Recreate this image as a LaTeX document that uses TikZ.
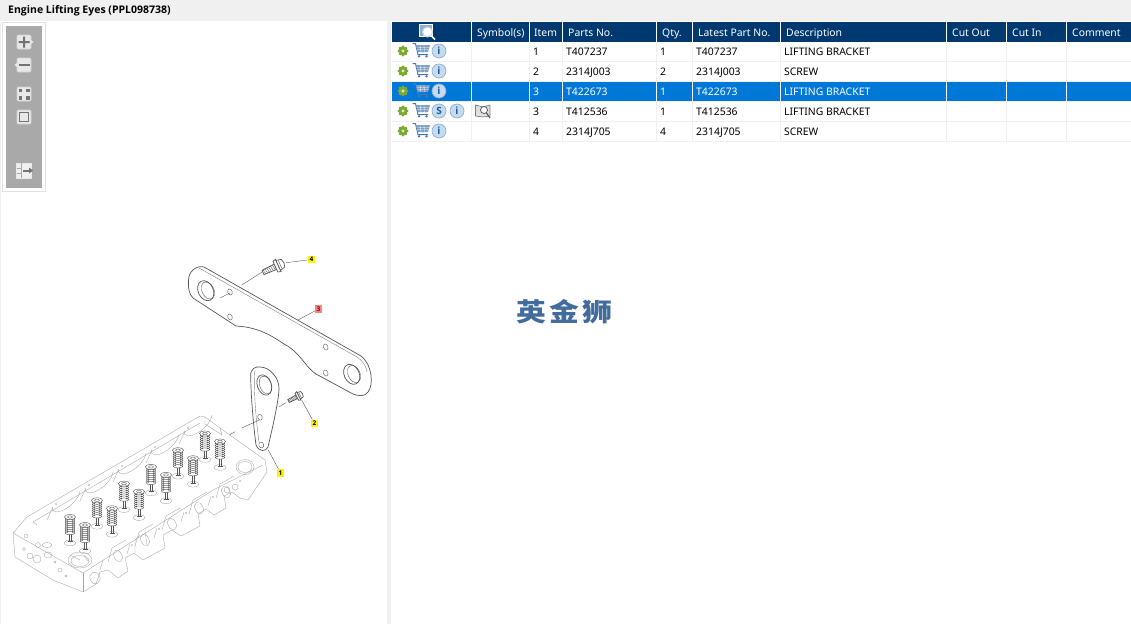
\documentclass[tikz,border=0pt]{standalone}
\usepackage{fontspec}
\setmainfont{Noto Sans}
\newfontfamily\cjk{Noto Sans CJK SC}
\newfontfamily\boldsans{Open Sans}
\usetikzlibrary{calc}
\definecolor{barback}{RGB}{240,240,240}
\definecolor{headblue}{RGB}{0,56,112}
\definecolor{rowblue}{RGB}{0,120,215}
\definecolor{toolgray}{RGB}{169,169,169}
\definecolor{gearcol}{RGB}{122,170,50}
\definecolor{cartcol}{RGB}{70,120,175}
\definecolor{infocol}{RGB}{197,220,240}
\definecolor{infotext}{RGB}{30,90,150}
\definecolor{markblue}{RGB}{66,108,155}
\definecolor{partline}{RGB}{85,85,85}
\definecolor{headline}{RGB}{165,165,165}
\definecolor{tagred}{RGB}{250,130,130}
\definecolor{btngray}{RGB}{115,115,115}
\tikzset{
  cell/.style={anchor=west, inner sep=0pt, font=\fontsize{10.4}{12}\selectfont, text height=7.5pt, text depth=1pt},
  headcell/.style={cell, text=white},
  tag/.style={font=\fontsize{6.5}{6.5}\selectfont\boldsans\bfseries, inner sep=0pt, minimum width=6.5pt, minimum height=7.5pt},
  leader/.style={draw=partline, line width=0.4pt},
  part/.style={draw=partline, line width=0.7pt},
  thinpart/.style={draw=partline, line width=0.4pt},
  engine/.style={draw=headline, line width=0.35pt},
  toolbtn/.style={draw=white!65!gray, fill=white!82!gray, line width=0.6pt, rounded corners=1pt},
  gearicon/.pic={
    \foreach \a in {0,45,...,315}
      \fill[gearcol] (\a:4.2pt) circle (1.5pt);
    \fill[gearcol] (0,0) circle (4.5pt);
    \fill[white!75!gearcol] (0,0) circle (1.7pt);
  },
  carticon/.pic={
    \draw[cartcol, line width=1pt] (-8.5,-6.5) -- (-5.5,-6.5) -- (-3,4.5) -- (7,4.5);
    \fill[cartcol!70] (-5,-5) -- (9,-5) -- (7,2) -- (-3.3,2) -- cycle;
    \draw[white, line width=0.3pt] (-4.5,-2.7) -- (8.2,-2.7) (-4,-0.3) -- (7.6,-0.3) (-1,-5) -- (0,2) (3,-5) -- (3.3,2);
    \fill[cartcol] (-2,6.3) circle (1.3pt) (5.5,6.3) circle (1.3pt);
  },
  infoicon/.pic={
    \node[circle, draw=cartcol!60, fill=infocol, line width=0.7pt, inner sep=0pt, minimum size=14pt, text=infotext, font=\fontsize{10}{10}\selectfont\boldsans\bfseries] (-i) {\tikzpictext};
  },
  valve/.pic={
    \draw[engine] (0,18) ellipse (6pt and 2.8pt);
    \draw[partline, line width=0.4pt] (-0.7,-9) -- (-0.7,17) (0.7,-9) -- (0.7,17);
    \draw[partline, line width=0.4pt] (-2.5,16.5) -- (2.5,16.5);
    \foreach \v in {-6,-4,...,8}
      \draw[partline, line width=0.45pt, fill=white] (0,\v) ellipse (4.8pt and 1.7pt);
    \foreach \v in {-5,-3,...,7}
      \fill[partline] (-2.6,\v) circle (0.75pt) (2.6,\v) circle (0.75pt);
    \draw[partline, line width=0.4pt, fill=white] (0,-8) ellipse (5.6pt and 2.6pt);
    \draw[partline, line width=0.4pt] (0,-8) ellipse (2.4pt and 1.2pt);
  },
  bolt/.pic={
    \draw[part, fill=white] (0,-2.2) -- (13,-2.8) -- (13,2.8) -- (0,2.2) -- cycle;
    \foreach \t in {1,3,...,11}
      \draw[thinpart] (\t,-2.6) -- (\t+0.8,2.6);
    \draw[part, fill=white] (13,-5.5) -- (16,-6.5) -- (16,6.5) -- (13,5.5) -- cycle;
    \draw[part, fill=white] (16,-5.2) -- (21,-4) -- (22,0) -- (21,4) -- (16,5.2) -- cycle;
    \draw[thinpart] (18,-4.2) -- (18,4.2);
  },
}
\begin{document}
\begin{tikzpicture}[x=1pt,y=-1pt]
  \useasboundingbox (0,0) rectangle (1131,624);

  % panels
  \fill[white] (0,0) rectangle (1131,624);
  \fill[barback] (0,0) rectangle (1131,21);
  \fill[barback] (387,21) rectangle (391,624);
  \fill[barback] (0,21) rectangle (1,624);
  \node[anchor=west, inner sep=0pt, font=\fontsize{10.5}{12}\selectfont\boldsans\bfseries] (title) at (8,11) {Engine Lifting Eyes (PPL098738)};

  % toolbar
  \draw[draw=white!75!gray, fill=white, line width=0.8pt] (2.5,22.5) rectangle (45.5,191.5);
  \fill[toolgray] (6,26) rectangle (42,188);
  \foreach \y in {42,65,94,117}
    \draw[toolbtn] (17,\y-7) rectangle (31,\y+7);
  \fill[white!82!gray] (31,40) -- (33.5,42) -- (31,44) -- cycle;
  \fill[white!82!gray] (17,63) -- (14.5,65) -- (17,67) -- cycle;
  \fill[btngray] (18.5,41) rectangle (29.5,43) (23,36.5) rectangle (25,47.5);
  \fill[btngray] (18.5,64) rectangle (29.5,66);
  \foreach \x/\y in {18.5/88.5,26/88.5,18.5/96,26/96}
    \fill[btngray] (\x,\y) rectangle ++(3.5,3.5);
  \draw[btngray, line width=1pt] (19.8,112.5) rectangle (28.2,121.5);
  \draw[white!82!gray, fill=white!88!gray, line width=0.4pt] (16,163) rectangle (31,178);
  \draw[toolgray, line width=0.6pt] (16.5,168) -- (21,168) (16.5,173) -- (21,173) (21,163) -- (21,178);
  \fill[btngray] (23,169.5) rectangle (29,171.5);
  \fill[btngray] (29,167.5) -- (33,170.5) -- (29,173.5) -- cycle;

  % large bracket
  \draw[part, fill=white] (188.5,281) .. controls (188,272) and (196,265) .. (204,267)
    -- (361,356) .. controls (372,364) and (374,385) .. (368,392)
    .. controls (365,397) and (358,396) .. (353,394)
    -- (316,374) .. controls (306,368) and (300,352) .. (284,344)
    .. controls (268,333) and (255,327) .. (236,326)
    -- (193,298) .. controls (189,294) and (188,288) .. cycle;
  \draw[thinpart, gray] (199,268) -- (357,357) .. controls (363,361) and (366,366) .. (367,372);
  \draw[part] (205.7,290.7) circle[x radius=7.5pt, y radius=10.5pt, rotate=25];
  \draw[thinpart] (208,290.5) circle[x radius=6pt, y radius=9pt, rotate=25];
  \draw[part] (351.7,374.3) circle[x radius=7.5pt, y radius=10.5pt, rotate=25];
  \draw[thinpart] (354,374) circle[x radius=6pt, y radius=9pt, rotate=25];
  \foreach \x/\y in {230/292,230/317,325.7/347,325.7/373}
    \draw[thinpart] (\x,\y) circle[x radius=2.2pt, y radius=3.2pt, rotate=20];
  \coordinate (bigaxis1) at (261.7,272.3);
  \coordinate (bigaxis2) at (241.7,285);
  \coordinate (bigaxis3) at (230,293);
  \coordinate (bigaxis4) at (220,298);
  \draw[thinpart] (bigaxis1) -- (bigaxis2) (bigaxis3) -- (bigaxis4);

  % small bracket
  \draw[part, fill=white] (250.7,376) .. controls (250,369) and (256,366) .. (260,367)
    .. controls (270,367) and (279,378) .. (279,388)
    .. controls (279,400) and (272,430) .. (268,447)
    .. controls (266,452) and (259,452) .. (256,445)
    .. controls (254,430) and (251,400) .. cycle;
  \draw[thinpart, gray] (255,370) .. controls (253,385) and (256,420) .. (259,442);
  \draw[part] (264.3,385) circle[x radius=7pt, y radius=10.5pt, rotate=20];
  \draw[thinpart] (265.5,385) circle[x radius=5.8pt, y radius=9.2pt, rotate=20];
  \draw[thinpart] (260,417.3) circle[x radius=2.2pt, y radius=3pt, rotate=20];
  \draw[thinpart] (261.3,445) circle[x radius=2.4pt, y radius=3pt, rotate=20];
  \coordinate (smallaxis1) at (279.3,406.7);
  \coordinate (smallaxis2) at (286,402.7);
  \coordinate (smallaxis3) at (259.3,420);
  \coordinate (smallaxis4) at (241.7,428);
  \coordinate (smallaxis5) at (235,431.7);
  \coordinate (smallaxis6) at (229.3,435);
  \draw[thinpart] (smallaxis1) -- (smallaxis2) (smallaxis3) -- (smallaxis4) (smallaxis5) -- (smallaxis6);

  % bolts
  \pic[rotate=25, scale=1.05] at (263,272.5) {bolt};
  \pic[rotate=27, scale=0.72] at (288.5,401) {bolt};

  % engine head
  \draw[engine] (200,416) -- (27,517) -- (13,533) -- (15,557) -- (53,580) -- (83,592)
    -- (96,584) -- (100,572) -- (108,570) -- (118,578) -- (128,571) -- (125,558) -- (134,553)
    -- (143,560) -- (165,548) -- (163,535) -- (172,530) -- (181,536) -- (200,526) -- (198,514)
    -- (206,509) -- (214,515) -- (226,508) -- (224,496) -- (232,492) -- (240,498) -- (248,500)
    -- (267,472) -- (265,460) -- (220,428) -- (205,417) -- cycle;
  \draw[engine] (13,533) -- (83,573) -- (213,490) -- (263,465);
  \draw[engine] (83,573) -- (83,592);
  \draw[engine] (200,423) -- (33,522) -- (37,525);
  \draw[engine] (205,417) -- (205,424) -- (222,435) -- (220,428);
  \foreach \k in {0,...,4} {
    \draw[engine] ($(52,507)+\k*(33,-19)$) .. controls ($(52,520)+\k*(33,-19)$) and ($(78,505)+\k*(33,-19)$) .. ($(80,491)+\k*(33,-19)$);
    \draw[engine] ($(47,520)+\k*(33,-19)$) -- ($(53,507)+\k*(33,-19)$);
    \fill[headline] ($(56,504)+\k*(33,-19)$) circle (0.9pt);
  }
  % ports along the front
  \foreach \k in {0,...,4} {
    \draw[engine] ($(118,556)+\k*(27,-16)$) circle[x radius=4pt, y radius=6pt, rotate=25];
    \draw[engine] ($(108,562)+\k*(27,-16)$) -- ($(112,548)+\k*(27,-16)$) -- ($(126,540)+\k*(27,-16)$);
    \draw[engine] ($(100,570)+\k*(27,-16)$) -- ($(103,560)+\k*(27,-16)$);
    \fill[headline] ($(132,545)+\k*(27,-16)$) circle (0.9pt);
  }
  % end details
  \draw[engine] (48,555) circle[x radius=4pt, y radius=3pt];
  \draw[engine] (80,560) circle[x radius=12pt, y radius=8pt];
  \draw[engine] (80,561) circle[x radius=9pt, y radius=5.5pt];
  \draw[engine] (80,560) -- (70,555) (84,555) -- (88,561);
  \draw[engine] (245,467) circle[x radius=9pt, y radius=7.5pt];
  \draw[engine] (245,467) circle[x radius=7pt, y radius=5.5pt];
  \draw[engine] (38,545) circle (2.5pt) (30,556) circle (3pt) (37,559) circle (4pt) (24,549) circle (1.5pt) (26,536) circle (2pt);
  \draw[engine] (95,578) circle[x radius=5pt, y radius=6pt, rotate=25];
  \draw[engine] (227,490) circle (3pt) (235,487) circle (3pt);
  \draw[engine] (47,545) ellipse (5pt and 2.5pt);
  \draw[engine] (140,535) -- (135,540) -- (135,553) (145,531) -- (147,545);
  \draw[engine] (60,570) circle (2pt) (66,576) circle (1.2pt) (55,562) circle (1.2pt);
  % valves
  \foreach \k in {0,...,5} {
    \pic at ($(70,525)+\k*(27,-16.7)$) {valve};
    \pic at ($(85,533)+\k*(27,-16.7)$) {valve};
  }

  % item tags
  \node[tag, fill=yellow] (tag4) at (311.5,259.5) {4};
  \node[tag, fill=tagred, text=red!50!black] (tag3) at (318.5,309) {3};
  \node[tag, fill=yellow] (tag2) at (314.5,423.5) {2};
  \node[tag, fill=yellow] (tag1) at (280.5,473) {1};
  \coordinate (boltbig) at (286,262.7);
  \coordinate (bigedge) at (298,320);
  \coordinate (boltsmall) at (301.7,400);
  \coordinate (smalledge) at (268.3,450);
  \draw[leader] (boltbig) -- (tag4);
  \draw[leader] (bigedge) -- (tag3);
  \draw[leader] (boltsmall) -- (tag2);
  \draw[leader] (smalledge) -- (tag1);

  % table
  \fill[headblue] (391.5,22) rectangle (1131,42);
  \fill[rowblue] (391.5,82) rectangle (1131,101);
  \foreach \y in {61.5,81.5,101.5,121.5,141.5}
    \draw[barback, line width=0.8pt] (391.5,\y) -- (1131,\y);
  \foreach \x in {471.5,529.5,562.5,656.5,692.5,780.5,946.5,1006.5,1066.5} {
    \draw[barback, line width=0.8pt] (\x,42) -- (\x,141.5);
    \draw[white, line width=0.8pt] (\x,22) -- (\x,42);
    \draw[white, line width=0.8pt] (\x,82) -- (\x,101);
  }
  \foreach \x/\txt/\nm in {477/Symbol(s)/symbol,534/Item/item,568/Parts No./parts,662/Qty./qty,698/Latest Part No./latest,786/Description/descr,952/Cut Out/cutout,1012/Cut In/cutin,1072/Comment/comment}
    \node[headcell] (\nm) at (\x,33.5) {\txt};
  \foreach \r/\y/\num/\partno/\q/\descr/\col in {
      a/51/1/T407237/1/LIFTING BRACKET/black,
      b/71/2/2314J003/2/SCREW/black,
      c/91/3/T422673/1/LIFTING BRACKET/white,
      d/111/3/T412536/1/LIFTING BRACKET/black,
      e/131/4/2314J705/4/SCREW/black} {
    \node[cell, text=\col] (item\r) at (533,\y+1.5) {\num};
    \node[cell, text=\col] (parts\r) at (566,\y+1.5) {\partno};
    \node[cell, text=\col] (qty\r) at (660,\y+1.5) {\q};
    \node[cell, text=\col] (latest\r) at (696,\y+1.5) {\partno};
    \node[cell, text=\col] (descr\r) at (784,\y+1.5) {\descr};
    \pic at (403,\y) {gearicon};
    \pic at (421,\y-1) {carticon};
  }
  \pic[pic text=i] (infoa) at (439,51) {infoicon};
  \pic[pic text=i] (infob) at (439,71) {infoicon};
  \pic[pic text=i] (infoc) at (439,91) {infoicon};
  \pic[pic text=S] (infos) at (439,111) {infoicon};
  \pic[pic text=i] (infod) at (457,111) {infoicon};
  \pic[pic text=i] (infoe) at (439,131) {infoicon};

  % search icons
  \draw[white, fill=cartcol!60, line width=0.6pt] (419.5,24.5) rectangle (432,36);
  \draw[cartcol!30, fill=white, line width=1pt] (427.5,32) circle (5pt);
  \draw[white, line width=1.6pt] (431,35.5) -- (435,39.5);
  \draw[gray, fill=white!75!gray, line width=0.7pt] (475.5,105) -- (483,107) -- (490,105) -- (490,116) -- (483,117) -- (475.5,116) -- cycle;
  \draw[black!70, fill=white, line width=0.7pt] (484,110) circle (3.5pt);
  \draw[black!70, line width=1pt] (486.5,113) -- (490,118);

  % watermark
  \node[inner sep=0pt, anchor=center, text=markblue, xscale=1.17, transform shape, font=\fontsize{25.5}{26}\selectfont\cjk\bfseries] (mark) at (564.5,312) {英\hspace{2.5pt}金\hspace{2.5pt}狮};
\end{tikzpicture}
\end{document}
